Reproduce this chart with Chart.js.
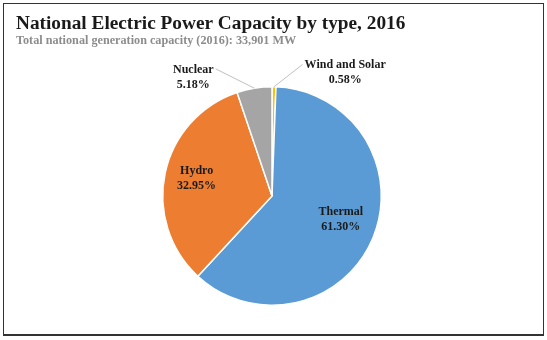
<!DOCTYPE html>
<html>
<head>
<meta charset="utf-8">
<script src="https://cdn.jsdelivr.net/npm/chart.js@4/dist/chart.umd.min.js"></script>
<style>
  html, body { margin: 0; padding: 0; background: #fff; }
  #wrap { position: relative; width: 547px; height: 340px; }
  #frame { position: absolute; left: 3px; top: 3px; width: 541px; height: 333px;
           box-sizing: border-box; border: 1px solid #333; border-bottom-width: 2px; pointer-events: none; }
  canvas { position: absolute; left: 0; top: 0; }
</style>
</head>
<body>
<div id="wrap">
  <canvas id="c" width="547" height="340"></canvas>
  <div id="frame"></div>
</div>
<script>
// Generation capacity shares by type, 2016 (percent)
const categories = ['Wind and Solar', 'Thermal', 'Hydro', 'Nuclear'];
const shares = [0.58, 61.30, 32.95, 5.18];
const colors = ['#FFC000', '#5B9BD5', '#ED7D31', '#A5A5A5'];

const titleText = 'National Electric Power Capacity by type, 2016';
const subtitleText = 'Total national generation capacity (2016): 33,901 MW';

// Label placement relative to the pie centre, in units of the radius,
// plus whether the label sits outside and needs a leader line.
const labelSpots = [
  { fx: 0.67, fy: -1.14, outside: true,  lineFrom: 'left' },
  { fx: 0.63, fy: 0.20,  outside: false },
  { fx: -0.69, fy: -0.17, outside: false },
  { fx: -0.72, fy: -1.10, outside: true, lineFrom: 'right' }
];

const serif = '"Liberation Serif", "Times New Roman", serif';

const headingPlugin = {
  id: 'heading',
  afterDraw(chart) {
    const ctx = chart.ctx;
    ctx.save();
    ctx.textAlign = 'left';
    ctx.textBaseline = 'alphabetic';
    ctx.fillStyle = '#1a1a1a';
    ctx.font = 'bold 19.3px ' + serif;
    ctx.fillText(titleText, 16, 29);
    ctx.fillStyle = '#8c8c8c';
    ctx.font = 'bold 12.2px ' + serif;
    ctx.fillText(subtitleText, 16, 44);
    ctx.restore();
  }
};

const sliceLabelPlugin = {
  id: 'sliceLabels',
  afterDatasetsDraw(chart) {
    const ctx = chart.ctx;
    const meta = chart.getDatasetMeta(0);
    ctx.save();
    ctx.font = 'bold 12px ' + serif;
    ctx.fillStyle = '#1a1a1a';
    ctx.textAlign = 'center';
    ctx.textBaseline = 'alphabetic';
    meta.data.forEach((arc, i) => {
      const p = arc.getProps(['x', 'y', 'startAngle', 'endAngle', 'outerRadius'], true);
      const r = p.outerRadius;
      const cx = p.x + labelSpots[i].fx * r;
      const cy = p.y + labelSpots[i].fy * r;
      const name = categories[i];
      const pct = shares[i].toFixed(2) + '%';
      ctx.fillText(name, cx, cy - 3);
      ctx.fillText(pct, cx, cy + 12);
      if (labelSpots[i].outside) {
        const mid = (p.startAngle + p.endAngle) / 2;
        const ex = p.x + Math.cos(mid) * r;
        const ey = p.y + Math.sin(mid) * r;
        const w = ctx.measureText(name).width;
        const sx = labelSpots[i].lineFrom === 'left' ? cx - w / 2 - 2 : cx + w / 2 + 2;
        const sy = cy - 7;
        ctx.strokeStyle = '#bfbfbf';
        ctx.lineWidth = 1;
        ctx.beginPath();
        ctx.moveTo(sx, sy);
        ctx.lineTo(ex, ey);
        ctx.stroke();
      }
    });
    ctx.restore();
  }
};

new Chart(document.getElementById('c'), {
  type: 'pie',
  data: {
    labels: categories,
    datasets: [{
      data: shares,
      backgroundColor: colors,
      borderColor: '#ffffff',
      borderWidth: 1.5
    }]
  },
  options: {
    responsive: false,
    animation: false,
    layout: { padding: { left: 162, right: 165, top: 86, bottom: 34 } },
    plugins: {
      legend: { display: false },
      tooltip: { enabled: false }
    }
  },
  plugins: [headingPlugin, sliceLabelPlugin]
});
</script>
</body>
</html>
